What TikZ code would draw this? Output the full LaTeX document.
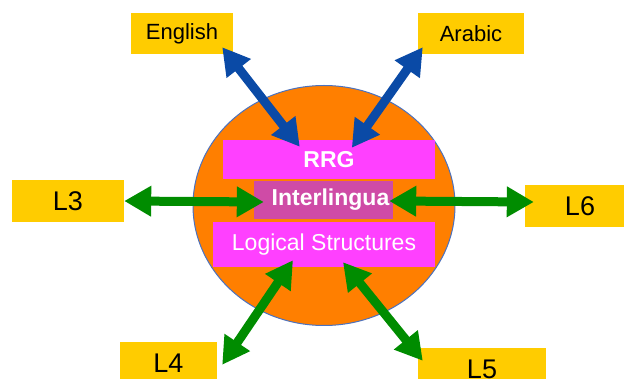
\documentclass[tikz,border=0pt]{standalone}
\usepackage{fontspec}
\setmainfont{Liberation Sans}
\usetikzlibrary{arrows.meta,calc}
\definecolor{boxyellow}{HTML}{FFCC00}
\definecolor{hub}{HTML}{FF7F00}
\definecolor{hubline}{HTML}{4A72C0}
\definecolor{layer}{HTML}{FF40FF}
\definecolor{core}{HTML}{CF4BA6}
\definecolor{langblue}{HTML}{0A4AA6}
\definecolor{langgreen}{HTML}{008C00}
\tikzset{
  lang/.style={fill=boxyellow, inner sep=0pt, text=black, anchor=center},
  layerbox/.style={fill=layer, inner sep=0pt, text=white, anchor=center},
  link/.style={line width=9pt, {Triangle[width=29pt,length=27pt]}-{Triangle[width=29pt,length=27pt]}},
  bluelink/.style={link, draw=langblue, fill=langblue},
  greenlink/.style={link, draw=langgreen, fill=langgreen},
}
\begin{document}
\begin{tikzpicture}[x=1pt,y=-1pt]
\useasboundingbox (0,0) rectangle (624,379);

% central disc
\draw[fill=hub, draw=hubline, line width=1pt] (324,205.5) ellipse [x radius=131, y radius=120];

% stacked layers inside the disc
\node[layerbox, minimum width=212pt, minimum height=39pt, font=\fontsize{23}{27}\selectfont\bfseries] (rrg) at (329,159.5) {RRG};
\node[layerbox, fill=core, minimum width=139pt, minimum height=38pt, font=\fontsize{23}{27}\selectfont\bfseries] (inter) at (323.5,200) {\hspace*{14pt}Interlingua};
\node[layerbox, minimum width=222pt, minimum height=45pt, font=\fontsize{23}{27}\selectfont] (lsc) at (324,244.5) {Logical Structures};

% languages
\node[lang, minimum width=102pt, minimum height=41pt, font=\fontsize{22}{26}\selectfont] (en) at (182,33.5) {English};
\node[lang, minimum width=106pt, minimum height=41pt, font=\fontsize{22}{26}\selectfont] (ar) at (471,33.5) {Arabic};
\node[lang, minimum width=112pt, minimum height=42pt, font=\fontsize{27}{31}\selectfont] (l3) at (68,201) {L3};
\node[lang, minimum width=110pt, minimum height=42pt, font=\fontsize{27}{31}\selectfont] (l6) at (580,206) {L6};
\node[lang, minimum width=97pt, minimum height=42pt, font=\fontsize{27}{31}\selectfont] (l4) at (168.5,363) {L4};
\node[lang, minimum width=128pt, minimum height=42pt, font=\fontsize{27}{31}\selectfont] (l5) at (482,369) {L5};

% connectors
\draw[bluelink] ($(en.south east)+(-11,-7)$) -- ($(rrg.north west)+(77,7)$);
\draw[bluelink] ($(ar.south west)+(5,-7)$) -- ($(rrg.north west)+(129,8)$);
\draw[greenlink] (l3.east) -- ($(inter.west)+(10,2)$);
\draw[greenlink] ($(inter.east)+(-4,1)$) -- ($(l6.west)+(9,-4)$);
\draw[greenlink] ($(lsc.south)+(-31,-7)$) -- ($(l4.north east)+(5,23)$);
\draw[greenlink] ($(lsc.south)+(19,-5)$) -- ($(l5.north west)+(5,13)$);
\end{tikzpicture}
\end{document}
